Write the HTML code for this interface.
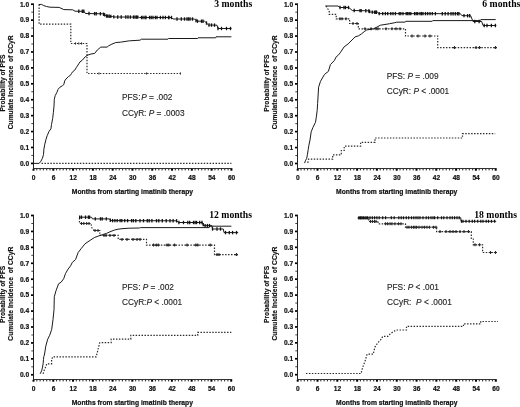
<!DOCTYPE html>
<html><head><meta charset="utf-8"><style>
html,body{margin:0;padding:0;background:#fff;}
svg{display:block;will-change:transform;filter:blur(0.3px);}
.tk{font-family:"Liberation Sans", sans-serif;font-weight:bold;font-size:6.6px;fill:#111;stroke:#111;stroke-width:0.2px;}
.xt{font-family:"Liberation Sans", sans-serif;font-weight:bold;font-size:6.75px;fill:#111;stroke:#111;stroke-width:0.2px;}
.yt{font-family:"Liberation Sans", sans-serif;font-weight:bold;font-size:6.65px;fill:#111;stroke:#111;stroke-width:0.15px;}
.pt{font-family:"Liberation Serif", serif;font-weight:bold;font-size:9.7px;fill:#000;}
.st{font-family:"Liberation Sans", sans-serif;font-size:8.3px;fill:#222;stroke:#222;stroke-width:0.12px;}
</style></head><body>
<svg width="520" height="407" viewBox="0 0 520 407">
<rect width="520" height="407" fill="#fff"/>
<path d="M33.50,3.30 V169.00" stroke="#222" stroke-width="1.0" fill="none"/>
<path d="M33.00,168.50 H232.40" stroke="#333" stroke-width="1.0" fill="none"/>
<rect x="31.00" y="162.55" width="2.1" height="1.7" fill="#000"/>
<rect x="31.30" y="154.94" width="1.8" height="1.0" fill="#444"/>
<rect x="31.00" y="146.63" width="2.1" height="1.7" fill="#000"/>
<rect x="31.30" y="139.02" width="1.8" height="1.0" fill="#444"/>
<rect x="31.00" y="130.71" width="2.1" height="1.7" fill="#000"/>
<rect x="31.30" y="123.10" width="1.8" height="1.0" fill="#444"/>
<rect x="31.00" y="114.79" width="2.1" height="1.7" fill="#000"/>
<rect x="31.30" y="107.18" width="1.8" height="1.0" fill="#444"/>
<rect x="31.00" y="98.87" width="2.1" height="1.7" fill="#000"/>
<rect x="31.30" y="91.26" width="1.8" height="1.0" fill="#444"/>
<rect x="31.00" y="82.95" width="2.1" height="1.7" fill="#000"/>
<rect x="31.30" y="75.34" width="1.8" height="1.0" fill="#444"/>
<rect x="31.00" y="67.03" width="2.1" height="1.7" fill="#000"/>
<rect x="31.30" y="59.42" width="1.8" height="1.0" fill="#444"/>
<rect x="31.00" y="51.11" width="2.1" height="1.7" fill="#000"/>
<rect x="31.30" y="43.50" width="1.8" height="1.0" fill="#444"/>
<rect x="31.00" y="35.19" width="2.1" height="1.7" fill="#000"/>
<rect x="31.30" y="27.58" width="1.8" height="1.0" fill="#444"/>
<rect x="31.00" y="19.27" width="2.1" height="1.7" fill="#000"/>
<rect x="31.30" y="11.66" width="1.8" height="1.0" fill="#444"/>
<rect x="31.00" y="3.35" width="2.1" height="1.7" fill="#000"/>
<rect x="32.50" y="168.80" width="2.0" height="1.9" fill="#000"/>
<rect x="36.25" y="168.90" width="1.1" height="1.5" fill="#333"/>
<rect x="39.55" y="168.90" width="1.1" height="1.5" fill="#333"/>
<rect x="42.84" y="168.90" width="1.1" height="1.5" fill="#333"/>
<rect x="46.14" y="168.90" width="1.1" height="1.5" fill="#333"/>
<rect x="49.44" y="168.90" width="1.1" height="1.5" fill="#333"/>
<rect x="52.29" y="168.80" width="2.0" height="1.9" fill="#000"/>
<rect x="56.04" y="168.90" width="1.1" height="1.5" fill="#333"/>
<rect x="59.34" y="168.90" width="1.1" height="1.5" fill="#333"/>
<rect x="62.64" y="168.90" width="1.1" height="1.5" fill="#333"/>
<rect x="65.93" y="168.90" width="1.1" height="1.5" fill="#333"/>
<rect x="69.23" y="168.90" width="1.1" height="1.5" fill="#333"/>
<rect x="72.08" y="168.80" width="2.0" height="1.9" fill="#000"/>
<rect x="75.83" y="168.90" width="1.1" height="1.5" fill="#333"/>
<rect x="79.13" y="168.90" width="1.1" height="1.5" fill="#333"/>
<rect x="82.42" y="168.90" width="1.1" height="1.5" fill="#333"/>
<rect x="85.72" y="168.90" width="1.1" height="1.5" fill="#333"/>
<rect x="89.02" y="168.90" width="1.1" height="1.5" fill="#333"/>
<rect x="91.87" y="168.80" width="2.0" height="1.9" fill="#000"/>
<rect x="95.62" y="168.90" width="1.1" height="1.5" fill="#333"/>
<rect x="98.92" y="168.90" width="1.1" height="1.5" fill="#333"/>
<rect x="102.22" y="168.90" width="1.1" height="1.5" fill="#333"/>
<rect x="105.51" y="168.90" width="1.1" height="1.5" fill="#333"/>
<rect x="108.81" y="168.90" width="1.1" height="1.5" fill="#333"/>
<rect x="111.66" y="168.80" width="2.0" height="1.9" fill="#000"/>
<rect x="115.41" y="168.90" width="1.1" height="1.5" fill="#333"/>
<rect x="118.71" y="168.90" width="1.1" height="1.5" fill="#333"/>
<rect x="122.01" y="168.90" width="1.1" height="1.5" fill="#333"/>
<rect x="125.30" y="168.90" width="1.1" height="1.5" fill="#333"/>
<rect x="128.60" y="168.90" width="1.1" height="1.5" fill="#333"/>
<rect x="131.45" y="168.80" width="2.0" height="1.9" fill="#000"/>
<rect x="135.20" y="168.90" width="1.1" height="1.5" fill="#333"/>
<rect x="138.50" y="168.90" width="1.1" height="1.5" fill="#333"/>
<rect x="141.79" y="168.90" width="1.1" height="1.5" fill="#333"/>
<rect x="145.09" y="168.90" width="1.1" height="1.5" fill="#333"/>
<rect x="148.39" y="168.90" width="1.1" height="1.5" fill="#333"/>
<rect x="151.24" y="168.80" width="2.0" height="1.9" fill="#000"/>
<rect x="154.99" y="168.90" width="1.1" height="1.5" fill="#333"/>
<rect x="158.29" y="168.90" width="1.1" height="1.5" fill="#333"/>
<rect x="161.58" y="168.90" width="1.1" height="1.5" fill="#333"/>
<rect x="164.88" y="168.90" width="1.1" height="1.5" fill="#333"/>
<rect x="168.18" y="168.90" width="1.1" height="1.5" fill="#333"/>
<rect x="171.03" y="168.80" width="2.0" height="1.9" fill="#000"/>
<rect x="174.78" y="168.90" width="1.1" height="1.5" fill="#333"/>
<rect x="178.08" y="168.90" width="1.1" height="1.5" fill="#333"/>
<rect x="181.38" y="168.90" width="1.1" height="1.5" fill="#333"/>
<rect x="184.67" y="168.90" width="1.1" height="1.5" fill="#333"/>
<rect x="187.97" y="168.90" width="1.1" height="1.5" fill="#333"/>
<rect x="190.82" y="168.80" width="2.0" height="1.9" fill="#000"/>
<rect x="194.57" y="168.90" width="1.1" height="1.5" fill="#333"/>
<rect x="197.87" y="168.90" width="1.1" height="1.5" fill="#333"/>
<rect x="201.16" y="168.90" width="1.1" height="1.5" fill="#333"/>
<rect x="204.46" y="168.90" width="1.1" height="1.5" fill="#333"/>
<rect x="207.76" y="168.90" width="1.1" height="1.5" fill="#333"/>
<rect x="210.61" y="168.80" width="2.0" height="1.9" fill="#000"/>
<rect x="214.36" y="168.90" width="1.1" height="1.5" fill="#333"/>
<rect x="217.66" y="168.90" width="1.1" height="1.5" fill="#333"/>
<rect x="220.95" y="168.90" width="1.1" height="1.5" fill="#333"/>
<rect x="224.25" y="168.90" width="1.1" height="1.5" fill="#333"/>
<rect x="227.55" y="168.90" width="1.1" height="1.5" fill="#333"/>
<rect x="230.40" y="168.80" width="2.0" height="1.9" fill="#000"/>
<text x="29.10" y="165.70" text-anchor="end" class="tk">0.0</text>
<text x="29.10" y="149.78" text-anchor="end" class="tk">0.1</text>
<text x="29.10" y="133.86" text-anchor="end" class="tk">0.2</text>
<text x="29.10" y="117.94" text-anchor="end" class="tk">0.3</text>
<text x="29.10" y="102.02" text-anchor="end" class="tk">0.4</text>
<text x="29.10" y="86.10" text-anchor="end" class="tk">0.5</text>
<text x="29.10" y="70.18" text-anchor="end" class="tk">0.6</text>
<text x="29.10" y="54.26" text-anchor="end" class="tk">0.7</text>
<text x="29.10" y="38.34" text-anchor="end" class="tk">0.8</text>
<text x="29.10" y="22.42" text-anchor="end" class="tk">0.9</text>
<text x="29.10" y="6.50" text-anchor="end" class="tk">1.0</text>
<text x="33.70" y="179.70" text-anchor="middle" class="tk">0</text>
<text x="53.49" y="179.70" text-anchor="middle" class="tk">6</text>
<text x="73.28" y="179.70" text-anchor="middle" class="tk">12</text>
<text x="93.07" y="179.70" text-anchor="middle" class="tk">18</text>
<text x="112.86" y="179.70" text-anchor="middle" class="tk">24</text>
<text x="132.65" y="179.70" text-anchor="middle" class="tk">30</text>
<text x="152.44" y="179.70" text-anchor="middle" class="tk">36</text>
<text x="172.23" y="179.70" text-anchor="middle" class="tk">42</text>
<text x="192.02" y="179.70" text-anchor="middle" class="tk">48</text>
<text x="211.81" y="179.70" text-anchor="middle" class="tk">54</text>
<text x="231.60" y="179.70" text-anchor="middle" class="tk">60</text>
<text x="132.45" y="194.40" text-anchor="middle" class="xt" textLength="121.3" lengthAdjust="spacingAndGlyphs">Months from starting imatinib therapy</text>
<text transform="translate(4.80,83.05) rotate(-90)" text-anchor="middle" class="yt" textLength="57.1" lengthAdjust="spacingAndGlyphs">Probability of PFS</text>
<text transform="translate(12.80,82.35) rotate(-90)" text-anchor="middle" class="yt" xml:space="preserve" textLength="93.9" lengthAdjust="spacing">Cumulate Incidence  of CCyR</text>
<text x="252.20" y="7.00" text-anchor="end" class="pt">3 months</text>
<path d="M39.10,4.50 L39.10,24.10 L70.80,24.10 L70.80,43.50 L87.00,43.50 L87.00,73.50 L180.40,73.50" stroke="#2a2a2a" stroke-width="1.2" fill="none" stroke-dasharray="1.45 1.5"/>
<path d="M75.50,42.40 v2.20" stroke="#2a2a2a" stroke-width="1.0"/>
<path d="M78.80,42.40 v2.20" stroke="#2a2a2a" stroke-width="1.0"/>
<path d="M81.60,42.40 v2.20" stroke="#2a2a2a" stroke-width="1.0"/>
<path d="M99.00,72.40 v2.20" stroke="#2a2a2a" stroke-width="1.0"/>
<path d="M146.60,72.40 v2.20" stroke="#2a2a2a" stroke-width="1.0"/>
<path d="M180.40,72.40 v2.20" stroke="#2a2a2a" stroke-width="1.0"/>
<path d="M41.50,163.40 L231.40,163.40" stroke="#2a2a2a" stroke-width="1.2" fill="none" stroke-dasharray="1.45 1.5"/>
<path d="M33.00,163.40 L39.10,163.40 L40.90,161.20 L42.40,158.30 L43.50,154.60 L43.90,149.10 L44.80,144.20 L46.00,139.30 L47.20,135.60 L49.10,131.30 L50.90,128.90 L51.50,124.60 L52.70,118.40 L53.40,112.30 L54.00,106.10 L54.30,99.30 L55.20,95.60 L56.80,92.60 L58.00,89.50 L59.80,87.30 L62.30,85.80 L63.80,84.60 L64.70,80.90 L66.00,79.00 L68.40,76.60 L70.30,75.40 L71.50,73.50 L72.70,71.70 L74.60,70.40 L76.40,67.40 L78.90,63.70 L80.00,61.80 L82.30,60.20 L85.40,56.60 L88.10,55.00 L91.00,54.00 L94.70,53.40 L97.30,50.00 L100.80,47.10 L107.10,47.10 L108.30,46.00 L111.10,44.50 L115.80,42.50 L120.40,42.20 L126.10,41.30 L129.60,40.80 L140.00,40.20 L141.40,39.20 L168.00,39.20 L168.50,38.50 L197.50,38.50 L198.00,37.80 L215.60,37.80 L216.00,36.80 L231.40,36.80" stroke="#1a1a1a" stroke-width="1.0" fill="none" stroke-linejoin="round"/>
<path d="M38.80,4.50 L41.50,4.40 L43.80,5.60 L46.50,6.50 L50.00,7.20 L59.20,7.40 L63.80,9.60 L72.70,9.80 L75.00,11.20 L84.00,11.30 L85.40,13.50 L102.70,13.80 L105.00,15.00 L106.50,16.00 L112.70,16.50 L114.20,17.00 L138.50,17.10 L139.50,17.50 L171.50,17.50 L173.00,19.00 L194.50,19.00 L196.00,20.50 L197.30,21.20 L204.60,21.20 L208.50,25.00 L217.00,25.20 L218.00,28.50 L231.50,28.50" stroke="#1a1a1a" stroke-width="1.0" fill="none" stroke-linejoin="round"/>
<path d="M78.80,9.54 v3.40" stroke="#111" stroke-width="1.3"/>
<path d="M82.30,9.58 v3.40" stroke="#111" stroke-width="1.3"/>
<path d="M83.80,9.60 v3.40" stroke="#111" stroke-width="1.3"/>
<path d="M89.00,11.86 v3.40" stroke="#111" stroke-width="1.3"/>
<path d="M94.60,11.96 v3.40" stroke="#111" stroke-width="1.3"/>
<path d="M96.20,11.99 v3.40" stroke="#111" stroke-width="1.3"/>
<path d="M100.40,12.06 v3.40" stroke="#111" stroke-width="1.3"/>
<path d="M103.50,12.52 v3.40" stroke="#111" stroke-width="1.3"/>
<path d="M104.60,13.09 v3.40" stroke="#111" stroke-width="1.3"/>
<path d="M106.50,14.30 v3.40" stroke="#111" stroke-width="1.3"/>
<path d="M107.70,14.40 v3.40" stroke="#111" stroke-width="1.3"/>
<path d="M109.20,14.52 v3.40" stroke="#111" stroke-width="1.3"/>
<path d="M110.80,14.65 v3.40" stroke="#111" stroke-width="1.3"/>
<path d="M113.80,15.17 v3.40" stroke="#111" stroke-width="1.3"/>
<path d="M117.70,15.31 v3.40" stroke="#111" stroke-width="1.3"/>
<path d="M121.20,15.33 v3.40" stroke="#111" stroke-width="1.3"/>
<path d="M125.80,15.35 v3.40" stroke="#111" stroke-width="1.3"/>
<path d="M128.00,15.36 v3.40" stroke="#111" stroke-width="1.3"/>
<path d="M130.40,15.37 v3.40" stroke="#111" stroke-width="1.3"/>
<path d="M133.50,15.38 v3.40" stroke="#111" stroke-width="1.3"/>
<path d="M135.00,15.39 v3.40" stroke="#111" stroke-width="1.3"/>
<path d="M136.50,15.39 v3.40" stroke="#111" stroke-width="1.3"/>
<path d="M137.70,15.40 v3.40" stroke="#111" stroke-width="1.3"/>
<path d="M141.50,15.80 v3.40" stroke="#111" stroke-width="1.3"/>
<path d="M143.00,15.80 v3.40" stroke="#111" stroke-width="1.3"/>
<path d="M145.00,15.80 v3.40" stroke="#111" stroke-width="1.3"/>
<path d="M146.00,15.80 v3.40" stroke="#111" stroke-width="1.3"/>
<path d="M149.60,15.80 v3.40" stroke="#111" stroke-width="1.3"/>
<path d="M151.20,15.80 v3.40" stroke="#111" stroke-width="1.3"/>
<path d="M153.00,15.80 v3.40" stroke="#111" stroke-width="1.3"/>
<path d="M155.40,15.80 v3.40" stroke="#111" stroke-width="1.3"/>
<path d="M157.00,15.80 v3.40" stroke="#111" stroke-width="1.3"/>
<path d="M160.40,15.80 v3.40" stroke="#111" stroke-width="1.3"/>
<path d="M163.00,15.80 v3.40" stroke="#111" stroke-width="1.3"/>
<path d="M165.40,15.80 v3.40" stroke="#111" stroke-width="1.3"/>
<path d="M168.50,15.80 v3.40" stroke="#111" stroke-width="1.3"/>
<path d="M169.00,15.80 v3.40" stroke="#111" stroke-width="1.3"/>
<path d="M171.50,15.80 v3.40" stroke="#111" stroke-width="1.3"/>
<path d="M177.00,17.30 v3.40" stroke="#111" stroke-width="1.3"/>
<path d="M181.30,17.30 v3.40" stroke="#111" stroke-width="1.3"/>
<path d="M184.50,17.30 v3.40" stroke="#111" stroke-width="1.3"/>
<path d="M187.00,17.30 v3.40" stroke="#111" stroke-width="1.3"/>
<path d="M188.50,17.30 v3.40" stroke="#111" stroke-width="1.3"/>
<path d="M190.00,17.30 v3.40" stroke="#111" stroke-width="1.3"/>
<path d="M192.50,17.30 v3.40" stroke="#111" stroke-width="1.3"/>
<path d="M196.00,18.80 v3.40" stroke="#111" stroke-width="1.3"/>
<path d="M197.50,19.50 v3.40" stroke="#111" stroke-width="1.3"/>
<path d="M201.50,19.50 v3.40" stroke="#111" stroke-width="1.3"/>
<path d="M203.00,19.50 v3.40" stroke="#111" stroke-width="1.3"/>
<path d="M206.50,21.35 v3.40" stroke="#111" stroke-width="1.3"/>
<path d="M209.00,23.31 v3.40" stroke="#111" stroke-width="1.3"/>
<path d="M211.50,23.37 v3.40" stroke="#111" stroke-width="1.3"/>
<path d="M214.50,23.44 v3.40" stroke="#111" stroke-width="1.3"/>
<path d="M218.00,26.80 v3.40" stroke="#111" stroke-width="1.3"/>
<path d="M221.50,26.80 v3.40" stroke="#111" stroke-width="1.3"/>
<path d="M226.50,26.80 v3.40" stroke="#111" stroke-width="1.3"/>
<path d="M230.50,26.80 v3.40" stroke="#111" stroke-width="1.3"/>
<text x="122.00" y="99.80" class="st" xml:space="preserve">PFS:<tspan dx="0.8" font-style="italic">P</tspan> = .002</text>
<text x="122.00" y="115.60" class="st" xml:space="preserve">CCyR: <tspan font-style="italic">P</tspan> = .0003</text>
<path d="M297.50,3.30 V169.00" stroke="#222" stroke-width="1.0" fill="none"/>
<path d="M297.00,168.50 H496.70" stroke="#333" stroke-width="1.0" fill="none"/>
<rect x="295.00" y="162.65" width="2.1" height="1.7" fill="#000"/>
<rect x="295.30" y="155.03" width="1.8" height="1.0" fill="#444"/>
<rect x="295.00" y="146.72" width="2.1" height="1.7" fill="#000"/>
<rect x="295.30" y="139.10" width="1.8" height="1.0" fill="#444"/>
<rect x="295.00" y="130.79" width="2.1" height="1.7" fill="#000"/>
<rect x="295.30" y="123.17" width="1.8" height="1.0" fill="#444"/>
<rect x="295.00" y="114.86" width="2.1" height="1.7" fill="#000"/>
<rect x="295.30" y="107.24" width="1.8" height="1.0" fill="#444"/>
<rect x="295.00" y="98.93" width="2.1" height="1.7" fill="#000"/>
<rect x="295.30" y="91.31" width="1.8" height="1.0" fill="#444"/>
<rect x="295.00" y="83.00" width="2.1" height="1.7" fill="#000"/>
<rect x="295.30" y="75.38" width="1.8" height="1.0" fill="#444"/>
<rect x="295.00" y="67.07" width="2.1" height="1.7" fill="#000"/>
<rect x="295.30" y="59.45" width="1.8" height="1.0" fill="#444"/>
<rect x="295.00" y="51.14" width="2.1" height="1.7" fill="#000"/>
<rect x="295.30" y="43.52" width="1.8" height="1.0" fill="#444"/>
<rect x="295.00" y="35.21" width="2.1" height="1.7" fill="#000"/>
<rect x="295.30" y="27.59" width="1.8" height="1.0" fill="#444"/>
<rect x="295.00" y="19.28" width="2.1" height="1.7" fill="#000"/>
<rect x="295.30" y="11.66" width="1.8" height="1.0" fill="#444"/>
<rect x="295.00" y="3.35" width="2.1" height="1.7" fill="#000"/>
<rect x="296.70" y="168.80" width="2.0" height="1.9" fill="#000"/>
<rect x="300.45" y="168.90" width="1.1" height="1.5" fill="#333"/>
<rect x="303.75" y="168.90" width="1.1" height="1.5" fill="#333"/>
<rect x="307.05" y="168.90" width="1.1" height="1.5" fill="#333"/>
<rect x="310.35" y="168.90" width="1.1" height="1.5" fill="#333"/>
<rect x="313.65" y="168.90" width="1.1" height="1.5" fill="#333"/>
<rect x="316.50" y="168.80" width="2.0" height="1.9" fill="#000"/>
<rect x="320.25" y="168.90" width="1.1" height="1.5" fill="#333"/>
<rect x="323.55" y="168.90" width="1.1" height="1.5" fill="#333"/>
<rect x="326.85" y="168.90" width="1.1" height="1.5" fill="#333"/>
<rect x="330.15" y="168.90" width="1.1" height="1.5" fill="#333"/>
<rect x="333.45" y="168.90" width="1.1" height="1.5" fill="#333"/>
<rect x="336.30" y="168.80" width="2.0" height="1.9" fill="#000"/>
<rect x="340.05" y="168.90" width="1.1" height="1.5" fill="#333"/>
<rect x="343.35" y="168.90" width="1.1" height="1.5" fill="#333"/>
<rect x="346.65" y="168.90" width="1.1" height="1.5" fill="#333"/>
<rect x="349.95" y="168.90" width="1.1" height="1.5" fill="#333"/>
<rect x="353.25" y="168.90" width="1.1" height="1.5" fill="#333"/>
<rect x="356.10" y="168.80" width="2.0" height="1.9" fill="#000"/>
<rect x="359.85" y="168.90" width="1.1" height="1.5" fill="#333"/>
<rect x="363.15" y="168.90" width="1.1" height="1.5" fill="#333"/>
<rect x="366.45" y="168.90" width="1.1" height="1.5" fill="#333"/>
<rect x="369.75" y="168.90" width="1.1" height="1.5" fill="#333"/>
<rect x="373.05" y="168.90" width="1.1" height="1.5" fill="#333"/>
<rect x="375.90" y="168.80" width="2.0" height="1.9" fill="#000"/>
<rect x="379.65" y="168.90" width="1.1" height="1.5" fill="#333"/>
<rect x="382.95" y="168.90" width="1.1" height="1.5" fill="#333"/>
<rect x="386.25" y="168.90" width="1.1" height="1.5" fill="#333"/>
<rect x="389.55" y="168.90" width="1.1" height="1.5" fill="#333"/>
<rect x="392.85" y="168.90" width="1.1" height="1.5" fill="#333"/>
<rect x="395.70" y="168.80" width="2.0" height="1.9" fill="#000"/>
<rect x="399.45" y="168.90" width="1.1" height="1.5" fill="#333"/>
<rect x="402.75" y="168.90" width="1.1" height="1.5" fill="#333"/>
<rect x="406.05" y="168.90" width="1.1" height="1.5" fill="#333"/>
<rect x="409.35" y="168.90" width="1.1" height="1.5" fill="#333"/>
<rect x="412.65" y="168.90" width="1.1" height="1.5" fill="#333"/>
<rect x="415.50" y="168.80" width="2.0" height="1.9" fill="#000"/>
<rect x="419.25" y="168.90" width="1.1" height="1.5" fill="#333"/>
<rect x="422.55" y="168.90" width="1.1" height="1.5" fill="#333"/>
<rect x="425.85" y="168.90" width="1.1" height="1.5" fill="#333"/>
<rect x="429.15" y="168.90" width="1.1" height="1.5" fill="#333"/>
<rect x="432.45" y="168.90" width="1.1" height="1.5" fill="#333"/>
<rect x="435.30" y="168.80" width="2.0" height="1.9" fill="#000"/>
<rect x="439.05" y="168.90" width="1.1" height="1.5" fill="#333"/>
<rect x="442.35" y="168.90" width="1.1" height="1.5" fill="#333"/>
<rect x="445.65" y="168.90" width="1.1" height="1.5" fill="#333"/>
<rect x="448.95" y="168.90" width="1.1" height="1.5" fill="#333"/>
<rect x="452.25" y="168.90" width="1.1" height="1.5" fill="#333"/>
<rect x="455.10" y="168.80" width="2.0" height="1.9" fill="#000"/>
<rect x="458.85" y="168.90" width="1.1" height="1.5" fill="#333"/>
<rect x="462.15" y="168.90" width="1.1" height="1.5" fill="#333"/>
<rect x="465.45" y="168.90" width="1.1" height="1.5" fill="#333"/>
<rect x="468.75" y="168.90" width="1.1" height="1.5" fill="#333"/>
<rect x="472.05" y="168.90" width="1.1" height="1.5" fill="#333"/>
<rect x="474.90" y="168.80" width="2.0" height="1.9" fill="#000"/>
<rect x="478.65" y="168.90" width="1.1" height="1.5" fill="#333"/>
<rect x="481.95" y="168.90" width="1.1" height="1.5" fill="#333"/>
<rect x="485.25" y="168.90" width="1.1" height="1.5" fill="#333"/>
<rect x="488.55" y="168.90" width="1.1" height="1.5" fill="#333"/>
<rect x="491.85" y="168.90" width="1.1" height="1.5" fill="#333"/>
<rect x="494.70" y="168.80" width="2.0" height="1.9" fill="#000"/>
<text x="293.10" y="165.80" text-anchor="end" class="tk">0.0</text>
<text x="293.10" y="149.87" text-anchor="end" class="tk">0.1</text>
<text x="293.10" y="133.94" text-anchor="end" class="tk">0.2</text>
<text x="293.10" y="118.01" text-anchor="end" class="tk">0.3</text>
<text x="293.10" y="102.08" text-anchor="end" class="tk">0.4</text>
<text x="293.10" y="86.15" text-anchor="end" class="tk">0.5</text>
<text x="293.10" y="70.22" text-anchor="end" class="tk">0.6</text>
<text x="293.10" y="54.29" text-anchor="end" class="tk">0.7</text>
<text x="293.10" y="38.36" text-anchor="end" class="tk">0.8</text>
<text x="293.10" y="22.43" text-anchor="end" class="tk">0.9</text>
<text x="293.10" y="6.50" text-anchor="end" class="tk">1.0</text>
<text x="297.90" y="179.70" text-anchor="middle" class="tk">0</text>
<text x="317.70" y="179.70" text-anchor="middle" class="tk">6</text>
<text x="337.50" y="179.70" text-anchor="middle" class="tk">12</text>
<text x="357.30" y="179.70" text-anchor="middle" class="tk">18</text>
<text x="377.10" y="179.70" text-anchor="middle" class="tk">24</text>
<text x="396.90" y="179.70" text-anchor="middle" class="tk">30</text>
<text x="416.70" y="179.70" text-anchor="middle" class="tk">36</text>
<text x="436.50" y="179.70" text-anchor="middle" class="tk">42</text>
<text x="456.30" y="179.70" text-anchor="middle" class="tk">48</text>
<text x="476.10" y="179.70" text-anchor="middle" class="tk">54</text>
<text x="495.90" y="179.70" text-anchor="middle" class="tk">60</text>
<text x="396.70" y="194.40" text-anchor="middle" class="xt" textLength="121.3" lengthAdjust="spacingAndGlyphs">Months from starting imatinib therapy</text>
<text transform="translate(268.80,83.10) rotate(-90)" text-anchor="middle" class="yt" textLength="57.1" lengthAdjust="spacingAndGlyphs">Probability of PFS</text>
<text transform="translate(276.80,82.40) rotate(-90)" text-anchor="middle" class="yt" xml:space="preserve" textLength="93.9" lengthAdjust="spacing">Cumulate Incidence  of CCyR</text>
<text x="520.30" y="7.00" text-anchor="end" class="pt">6 months</text>
<path d="M326.00,6.00 L329.20,11.00 L329.20,14.30 L336.20,14.30 L336.20,18.80 L349.60,18.80 L349.60,23.50 L358.30,23.50 L358.30,28.80 L405.50,28.80 L405.50,36.00 L437.70,36.00 L437.70,47.60 L496.40,47.60" stroke="#2a2a2a" stroke-width="1.2" fill="none" stroke-dasharray="1.45 1.5"/>
<path d="M340.00,17.30 v3.00 M338.50,18.80 h3" stroke="#2a2a2a" stroke-width="1.1"/>
<path d="M342.00,17.30 v3.00 M340.50,18.80 h3" stroke="#2a2a2a" stroke-width="1.1"/>
<path d="M346.00,17.30 v3.00 M344.50,18.80 h3" stroke="#2a2a2a" stroke-width="1.1"/>
<path d="M353.00,22.00 v3.00 M351.50,23.50 h3" stroke="#2a2a2a" stroke-width="1.1"/>
<path d="M357.00,22.00 v3.00 M355.50,23.50 h3" stroke="#2a2a2a" stroke-width="1.1"/>
<path d="M365.00,27.30 v3.00 M363.50,28.80 h3" stroke="#2a2a2a" stroke-width="1.1"/>
<path d="M371.00,27.30 v3.00 M369.50,28.80 h3" stroke="#2a2a2a" stroke-width="1.1"/>
<path d="M376.00,27.30 v3.00 M374.50,28.80 h3" stroke="#2a2a2a" stroke-width="1.1"/>
<path d="M378.00,27.30 v3.00 M376.50,28.80 h3" stroke="#2a2a2a" stroke-width="1.1"/>
<path d="M386.00,27.30 v3.00 M384.50,28.80 h3" stroke="#2a2a2a" stroke-width="1.1"/>
<path d="M392.00,27.30 v3.00 M390.50,28.80 h3" stroke="#2a2a2a" stroke-width="1.1"/>
<path d="M396.00,27.30 v3.00 M394.50,28.80 h3" stroke="#2a2a2a" stroke-width="1.1"/>
<path d="M400.00,27.30 v3.00 M398.50,28.80 h3" stroke="#2a2a2a" stroke-width="1.1"/>
<path d="M412.00,34.50 v3.00 M410.50,36.00 h3" stroke="#2a2a2a" stroke-width="1.1"/>
<path d="M418.00,34.50 v3.00 M416.50,36.00 h3" stroke="#2a2a2a" stroke-width="1.1"/>
<path d="M425.00,34.50 v3.00 M423.50,36.00 h3" stroke="#2a2a2a" stroke-width="1.1"/>
<path d="M430.00,34.50 v3.00 M428.50,36.00 h3" stroke="#2a2a2a" stroke-width="1.1"/>
<path d="M454.50,46.10 v3.00 M453.00,47.60 h3" stroke="#2a2a2a" stroke-width="1.1"/>
<path d="M476.00,46.10 v3.00 M474.50,47.60 h3" stroke="#2a2a2a" stroke-width="1.1"/>
<path d="M479.50,46.10 v3.00 M478.00,47.60 h3" stroke="#2a2a2a" stroke-width="1.1"/>
<path d="M495.50,46.10 v3.00 M494.00,47.60 h3" stroke="#2a2a2a" stroke-width="1.1"/>
<path d="M307.80,162.80 L308.60,159.20 L332.70,159.20 L332.70,154.80 L341.30,154.80 L341.30,150.50 L344.20,150.50 L344.20,146.20 L360.60,146.20 L360.60,142.30 L375.00,142.30 L375.00,138.00 L462.50,138.00 L462.50,133.70 L495.20,133.70" stroke="#2a2a2a" stroke-width="1.2" fill="none" stroke-dasharray="1.45 1.5"/>
<path d="M304.60,163.10 L305.40,160.80 L306.70,158.40 L307.40,154.70 L308.20,149.60 L308.90,145.20 L310.00,140.00 L311.20,131.80 L312.90,127.50 L315.50,122.30 L316.30,117.20 L317.20,110.30 L317.60,103.70 L318.60,87.20 L320.50,81.30 L324.50,74.40 L328.40,71.40 L330.40,64.60 L334.30,60.60 L336.30,56.70 L338.20,55.30 L340.20,52.80 L344.10,46.90 L348.10,43.90 L352.00,40.00 L355.00,36.90 L358.50,35.80 L361.30,34.00 L364.20,31.70 L366.50,30.00 L370.00,29.40 L373.50,28.80 L376.90,27.10 L380.40,25.20 L385.00,24.50 L389.60,23.70 L394.20,22.80 L396.50,22.20 L405.30,22.10 L405.80,21.30 L432.20,21.30 L432.70,20.60 L480.30,20.60 L480.80,19.60 L495.70,19.60" stroke="#1a1a1a" stroke-width="1.0" fill="none" stroke-linejoin="round"/>
<path d="M325.40,6.00 L338.00,6.00 L340.00,7.50 L348.80,7.50 L352.30,10.50 L368.50,10.80 L370.40,12.00 L377.50,12.30 L379.00,13.60 L460.40,13.70 L461.80,15.60 L470.70,15.80 L473.00,21.50 L481.70,21.50 L483.00,25.50 L496.30,25.50" stroke="#1a1a1a" stroke-width="1.0" fill="none" stroke-linejoin="round"/>
<path d="M340.00,5.80 v3.40" stroke="#111" stroke-width="1.3"/>
<path d="M344.00,5.80 v3.40" stroke="#111" stroke-width="1.3"/>
<path d="M345.50,5.80 v3.40" stroke="#111" stroke-width="1.3"/>
<path d="M348.50,5.80 v3.40" stroke="#111" stroke-width="1.3"/>
<path d="M354.20,8.84 v3.40" stroke="#111" stroke-width="1.3"/>
<path d="M360.00,8.94 v3.40" stroke="#111" stroke-width="1.3"/>
<path d="M361.20,8.96 v3.40" stroke="#111" stroke-width="1.3"/>
<path d="M365.80,9.05 v3.40" stroke="#111" stroke-width="1.3"/>
<path d="M368.80,9.29 v3.40" stroke="#111" stroke-width="1.3"/>
<path d="M369.60,9.79 v3.40" stroke="#111" stroke-width="1.3"/>
<path d="M372.30,10.38 v3.40" stroke="#111" stroke-width="1.3"/>
<path d="M374.60,10.48 v3.40" stroke="#111" stroke-width="1.3"/>
<path d="M375.80,10.53 v3.40" stroke="#111" stroke-width="1.3"/>
<path d="M376.50,10.56 v3.40" stroke="#111" stroke-width="1.3"/>
<path d="M379.20,11.90 v3.40" stroke="#111" stroke-width="1.3"/>
<path d="M382.70,11.90 v3.40" stroke="#111" stroke-width="1.3"/>
<path d="M385.40,11.91 v3.40" stroke="#111" stroke-width="1.3"/>
<path d="M387.70,11.91 v3.40" stroke="#111" stroke-width="1.3"/>
<path d="M390.80,11.91 v3.40" stroke="#111" stroke-width="1.3"/>
<path d="M393.00,11.92 v3.40" stroke="#111" stroke-width="1.3"/>
<path d="M395.40,11.92 v3.40" stroke="#111" stroke-width="1.3"/>
<path d="M399.20,11.92 v3.40" stroke="#111" stroke-width="1.3"/>
<path d="M400.80,11.93 v3.40" stroke="#111" stroke-width="1.3"/>
<path d="M403.00,11.93 v3.40" stroke="#111" stroke-width="1.3"/>
<path d="M406.20,11.93 v3.40" stroke="#111" stroke-width="1.3"/>
<path d="M407.70,11.94 v3.40" stroke="#111" stroke-width="1.3"/>
<path d="M409.20,11.94 v3.40" stroke="#111" stroke-width="1.3"/>
<path d="M410.80,11.94 v3.40" stroke="#111" stroke-width="1.3"/>
<path d="M414.60,11.94 v3.40" stroke="#111" stroke-width="1.3"/>
<path d="M416.20,11.95 v3.40" stroke="#111" stroke-width="1.3"/>
<path d="M417.70,11.95 v3.40" stroke="#111" stroke-width="1.3"/>
<path d="M420.00,11.95 v3.40" stroke="#111" stroke-width="1.3"/>
<path d="M421.50,11.95 v3.40" stroke="#111" stroke-width="1.3"/>
<path d="M423.00,11.95 v3.40" stroke="#111" stroke-width="1.3"/>
<path d="M425.50,11.96 v3.40" stroke="#111" stroke-width="1.3"/>
<path d="M427.70,11.96 v3.40" stroke="#111" stroke-width="1.3"/>
<path d="M430.00,11.96 v3.40" stroke="#111" stroke-width="1.3"/>
<path d="M432.30,11.97 v3.40" stroke="#111" stroke-width="1.3"/>
<path d="M435.40,11.97 v3.40" stroke="#111" stroke-width="1.3"/>
<path d="M442.30,11.98 v3.40" stroke="#111" stroke-width="1.3"/>
<path d="M445.20,11.98 v3.40" stroke="#111" stroke-width="1.3"/>
<path d="M448.10,11.98 v3.40" stroke="#111" stroke-width="1.3"/>
<path d="M451.00,11.99 v3.40" stroke="#111" stroke-width="1.3"/>
<path d="M453.10,11.99 v3.40" stroke="#111" stroke-width="1.3"/>
<path d="M455.30,11.99 v3.40" stroke="#111" stroke-width="1.3"/>
<path d="M457.50,12.00 v3.40" stroke="#111" stroke-width="1.3"/>
<path d="M458.90,12.00 v3.40" stroke="#111" stroke-width="1.3"/>
<path d="M464.00,13.95 v3.40" stroke="#111" stroke-width="1.3"/>
<path d="M467.60,14.03 v3.40" stroke="#111" stroke-width="1.3"/>
<path d="M469.70,14.08 v3.40" stroke="#111" stroke-width="1.3"/>
<path d="M474.80,19.80 v3.40" stroke="#111" stroke-width="1.3"/>
<path d="M479.10,19.80 v3.40" stroke="#111" stroke-width="1.3"/>
<path d="M484.20,23.80 v3.40" stroke="#111" stroke-width="1.3"/>
<path d="M487.00,23.80 v3.40" stroke="#111" stroke-width="1.3"/>
<path d="M491.40,23.80 v3.40" stroke="#111" stroke-width="1.3"/>
<path d="M495.40,23.80 v3.40" stroke="#111" stroke-width="1.3"/>
<text x="386.70" y="78.70" class="st" xml:space="preserve">PFS: <tspan font-style="italic">P</tspan> = .009</text>
<text x="386.70" y="94.30" class="st" xml:space="preserve">CCyR: <tspan font-style="italic">P</tspan> &lt; .0001</text>
<path d="M33.50,214.60 V380.00" stroke="#222" stroke-width="1.0" fill="none"/>
<path d="M33.00,379.50 H232.20" stroke="#333" stroke-width="1.0" fill="none"/>
<rect x="31.00" y="373.95" width="2.1" height="1.7" fill="#000"/>
<rect x="31.30" y="366.34" width="1.8" height="1.0" fill="#444"/>
<rect x="31.00" y="358.02" width="2.1" height="1.7" fill="#000"/>
<rect x="31.30" y="350.41" width="1.8" height="1.0" fill="#444"/>
<rect x="31.00" y="342.09" width="2.1" height="1.7" fill="#000"/>
<rect x="31.30" y="334.48" width="1.8" height="1.0" fill="#444"/>
<rect x="31.00" y="326.16" width="2.1" height="1.7" fill="#000"/>
<rect x="31.30" y="318.55" width="1.8" height="1.0" fill="#444"/>
<rect x="31.00" y="310.23" width="2.1" height="1.7" fill="#000"/>
<rect x="31.30" y="302.62" width="1.8" height="1.0" fill="#444"/>
<rect x="31.00" y="294.30" width="2.1" height="1.7" fill="#000"/>
<rect x="31.30" y="286.69" width="1.8" height="1.0" fill="#444"/>
<rect x="31.00" y="278.37" width="2.1" height="1.7" fill="#000"/>
<rect x="31.30" y="270.75" width="1.8" height="1.0" fill="#444"/>
<rect x="31.00" y="262.44" width="2.1" height="1.7" fill="#000"/>
<rect x="31.30" y="254.82" width="1.8" height="1.0" fill="#444"/>
<rect x="31.00" y="246.51" width="2.1" height="1.7" fill="#000"/>
<rect x="31.30" y="238.89" width="1.8" height="1.0" fill="#444"/>
<rect x="31.00" y="230.58" width="2.1" height="1.7" fill="#000"/>
<rect x="31.30" y="222.97" width="1.8" height="1.0" fill="#444"/>
<rect x="31.00" y="214.65" width="2.1" height="1.7" fill="#000"/>
<rect x="32.50" y="379.80" width="2.0" height="1.9" fill="#000"/>
<rect x="36.25" y="379.90" width="1.1" height="1.5" fill="#333"/>
<rect x="39.54" y="379.90" width="1.1" height="1.5" fill="#333"/>
<rect x="42.84" y="379.90" width="1.1" height="1.5" fill="#333"/>
<rect x="46.13" y="379.90" width="1.1" height="1.5" fill="#333"/>
<rect x="49.43" y="379.90" width="1.1" height="1.5" fill="#333"/>
<rect x="52.27" y="379.80" width="2.0" height="1.9" fill="#000"/>
<rect x="56.02" y="379.90" width="1.1" height="1.5" fill="#333"/>
<rect x="59.31" y="379.90" width="1.1" height="1.5" fill="#333"/>
<rect x="62.61" y="379.90" width="1.1" height="1.5" fill="#333"/>
<rect x="65.90" y="379.90" width="1.1" height="1.5" fill="#333"/>
<rect x="69.20" y="379.90" width="1.1" height="1.5" fill="#333"/>
<rect x="72.04" y="379.80" width="2.0" height="1.9" fill="#000"/>
<rect x="75.79" y="379.90" width="1.1" height="1.5" fill="#333"/>
<rect x="79.08" y="379.90" width="1.1" height="1.5" fill="#333"/>
<rect x="82.38" y="379.90" width="1.1" height="1.5" fill="#333"/>
<rect x="85.67" y="379.90" width="1.1" height="1.5" fill="#333"/>
<rect x="88.97" y="379.90" width="1.1" height="1.5" fill="#333"/>
<rect x="91.81" y="379.80" width="2.0" height="1.9" fill="#000"/>
<rect x="95.55" y="379.90" width="1.1" height="1.5" fill="#333"/>
<rect x="98.85" y="379.90" width="1.1" height="1.5" fill="#333"/>
<rect x="102.14" y="379.90" width="1.1" height="1.5" fill="#333"/>
<rect x="105.44" y="379.90" width="1.1" height="1.5" fill="#333"/>
<rect x="108.73" y="379.90" width="1.1" height="1.5" fill="#333"/>
<rect x="111.58" y="379.80" width="2.0" height="1.9" fill="#000"/>
<rect x="115.33" y="379.90" width="1.1" height="1.5" fill="#333"/>
<rect x="118.62" y="379.90" width="1.1" height="1.5" fill="#333"/>
<rect x="121.92" y="379.90" width="1.1" height="1.5" fill="#333"/>
<rect x="125.21" y="379.90" width="1.1" height="1.5" fill="#333"/>
<rect x="128.50" y="379.90" width="1.1" height="1.5" fill="#333"/>
<rect x="131.35" y="379.80" width="2.0" height="1.9" fill="#000"/>
<rect x="135.09" y="379.90" width="1.1" height="1.5" fill="#333"/>
<rect x="138.39" y="379.90" width="1.1" height="1.5" fill="#333"/>
<rect x="141.69" y="379.90" width="1.1" height="1.5" fill="#333"/>
<rect x="144.98" y="379.90" width="1.1" height="1.5" fill="#333"/>
<rect x="148.27" y="379.90" width="1.1" height="1.5" fill="#333"/>
<rect x="151.12" y="379.80" width="2.0" height="1.9" fill="#000"/>
<rect x="154.86" y="379.90" width="1.1" height="1.5" fill="#333"/>
<rect x="158.16" y="379.90" width="1.1" height="1.5" fill="#333"/>
<rect x="161.45" y="379.90" width="1.1" height="1.5" fill="#333"/>
<rect x="164.75" y="379.90" width="1.1" height="1.5" fill="#333"/>
<rect x="168.04" y="379.90" width="1.1" height="1.5" fill="#333"/>
<rect x="170.89" y="379.80" width="2.0" height="1.9" fill="#000"/>
<rect x="174.63" y="379.90" width="1.1" height="1.5" fill="#333"/>
<rect x="177.93" y="379.90" width="1.1" height="1.5" fill="#333"/>
<rect x="181.22" y="379.90" width="1.1" height="1.5" fill="#333"/>
<rect x="184.52" y="379.90" width="1.1" height="1.5" fill="#333"/>
<rect x="187.81" y="379.90" width="1.1" height="1.5" fill="#333"/>
<rect x="190.66" y="379.80" width="2.0" height="1.9" fill="#000"/>
<rect x="194.40" y="379.90" width="1.1" height="1.5" fill="#333"/>
<rect x="197.70" y="379.90" width="1.1" height="1.5" fill="#333"/>
<rect x="200.99" y="379.90" width="1.1" height="1.5" fill="#333"/>
<rect x="204.29" y="379.90" width="1.1" height="1.5" fill="#333"/>
<rect x="207.58" y="379.90" width="1.1" height="1.5" fill="#333"/>
<rect x="210.43" y="379.80" width="2.0" height="1.9" fill="#000"/>
<rect x="214.17" y="379.90" width="1.1" height="1.5" fill="#333"/>
<rect x="217.47" y="379.90" width="1.1" height="1.5" fill="#333"/>
<rect x="220.76" y="379.90" width="1.1" height="1.5" fill="#333"/>
<rect x="224.06" y="379.90" width="1.1" height="1.5" fill="#333"/>
<rect x="227.35" y="379.90" width="1.1" height="1.5" fill="#333"/>
<rect x="230.20" y="379.80" width="2.0" height="1.9" fill="#000"/>
<text x="29.10" y="377.10" text-anchor="end" class="tk">0.0</text>
<text x="29.10" y="361.17" text-anchor="end" class="tk">0.1</text>
<text x="29.10" y="345.24" text-anchor="end" class="tk">0.2</text>
<text x="29.10" y="329.31" text-anchor="end" class="tk">0.3</text>
<text x="29.10" y="313.38" text-anchor="end" class="tk">0.4</text>
<text x="29.10" y="297.45" text-anchor="end" class="tk">0.5</text>
<text x="29.10" y="281.52" text-anchor="end" class="tk">0.6</text>
<text x="29.10" y="265.59" text-anchor="end" class="tk">0.7</text>
<text x="29.10" y="249.66" text-anchor="end" class="tk">0.8</text>
<text x="29.10" y="233.73" text-anchor="end" class="tk">0.9</text>
<text x="29.10" y="217.80" text-anchor="end" class="tk">1.0</text>
<text x="33.70" y="390.70" text-anchor="middle" class="tk">0</text>
<text x="53.47" y="390.70" text-anchor="middle" class="tk">6</text>
<text x="73.24" y="390.70" text-anchor="middle" class="tk">12</text>
<text x="93.01" y="390.70" text-anchor="middle" class="tk">18</text>
<text x="112.78" y="390.70" text-anchor="middle" class="tk">24</text>
<text x="132.55" y="390.70" text-anchor="middle" class="tk">30</text>
<text x="152.32" y="390.70" text-anchor="middle" class="tk">36</text>
<text x="172.09" y="390.70" text-anchor="middle" class="tk">42</text>
<text x="191.86" y="390.70" text-anchor="middle" class="tk">48</text>
<text x="211.63" y="390.70" text-anchor="middle" class="tk">54</text>
<text x="231.40" y="390.70" text-anchor="middle" class="tk">60</text>
<text x="132.35" y="405.40" text-anchor="middle" class="xt" textLength="121.3" lengthAdjust="spacingAndGlyphs">Months from starting imatinib therapy</text>
<text transform="translate(4.80,294.40) rotate(-90)" text-anchor="middle" class="yt" textLength="57.1" lengthAdjust="spacingAndGlyphs">Probability of PFS</text>
<text transform="translate(12.80,293.70) rotate(-90)" text-anchor="middle" class="yt" xml:space="preserve" textLength="93.9" lengthAdjust="spacing">Cumulate Incidence  of CCyR</text>
<text x="252.00" y="217.50" text-anchor="end" class="pt">12 months</text>
<path d="M79.50,218.00 L79.50,223.50 L90.90,223.50 L92.00,228.00 L94.00,230.50 L99.80,230.50 L99.80,235.40 L118.20,235.40 L118.20,239.40 L146.50,239.40 L146.50,245.10 L214.50,245.10 L214.50,254.60 L237.60,254.60" stroke="#2a2a2a" stroke-width="1.2" fill="none" stroke-dasharray="1.45 1.5"/>
<path d="M81.50,222.00 v3.00 M80.00,223.50 h3" stroke="#2a2a2a" stroke-width="1.1"/>
<path d="M83.80,222.00 v3.00 M82.30,223.50 h3" stroke="#2a2a2a" stroke-width="1.1"/>
<path d="M86.70,222.00 v3.00 M85.20,223.50 h3" stroke="#2a2a2a" stroke-width="1.1"/>
<path d="M89.00,222.00 v3.00 M87.50,223.50 h3" stroke="#2a2a2a" stroke-width="1.1"/>
<path d="M95.00,229.00 v3.00 M93.50,230.50 h3" stroke="#2a2a2a" stroke-width="1.1"/>
<path d="M98.00,229.00 v3.00 M96.50,230.50 h3" stroke="#2a2a2a" stroke-width="1.1"/>
<path d="M104.00,233.90 v3.00 M102.50,235.40 h3" stroke="#2a2a2a" stroke-width="1.1"/>
<path d="M106.00,233.90 v3.00 M104.50,235.40 h3" stroke="#2a2a2a" stroke-width="1.1"/>
<path d="M110.00,233.90 v3.00 M108.50,235.40 h3" stroke="#2a2a2a" stroke-width="1.1"/>
<path d="M114.00,233.90 v3.00 M112.50,235.40 h3" stroke="#2a2a2a" stroke-width="1.1"/>
<path d="M122.00,237.90 v3.00 M120.50,239.40 h3" stroke="#2a2a2a" stroke-width="1.1"/>
<path d="M127.00,237.90 v3.00 M125.50,239.40 h3" stroke="#2a2a2a" stroke-width="1.1"/>
<path d="M133.00,237.90 v3.00 M131.50,239.40 h3" stroke="#2a2a2a" stroke-width="1.1"/>
<path d="M137.00,237.90 v3.00 M135.50,239.40 h3" stroke="#2a2a2a" stroke-width="1.1"/>
<path d="M140.00,237.90 v3.00 M138.50,239.40 h3" stroke="#2a2a2a" stroke-width="1.1"/>
<path d="M153.50,243.60 v3.00 M152.00,245.10 h3" stroke="#2a2a2a" stroke-width="1.1"/>
<path d="M156.30,243.60 v3.00 M154.80,245.10 h3" stroke="#2a2a2a" stroke-width="1.1"/>
<path d="M158.30,243.60 v3.00 M156.80,245.10 h3" stroke="#2a2a2a" stroke-width="1.1"/>
<path d="M167.00,243.60 v3.00 M165.50,245.10 h3" stroke="#2a2a2a" stroke-width="1.1"/>
<path d="M168.80,243.60 v3.00 M167.30,245.10 h3" stroke="#2a2a2a" stroke-width="1.1"/>
<path d="M174.60,243.60 v3.00 M173.10,245.10 h3" stroke="#2a2a2a" stroke-width="1.1"/>
<path d="M187.10,243.60 v3.00 M185.60,245.10 h3" stroke="#2a2a2a" stroke-width="1.1"/>
<path d="M195.80,243.60 v3.00 M194.30,245.10 h3" stroke="#2a2a2a" stroke-width="1.1"/>
<path d="M197.70,243.60 v3.00 M196.20,245.10 h3" stroke="#2a2a2a" stroke-width="1.1"/>
<path d="M210.20,243.60 v3.00 M208.70,245.10 h3" stroke="#2a2a2a" stroke-width="1.1"/>
<path d="M217.00,253.10 v3.00 M215.50,254.60 h3" stroke="#2a2a2a" stroke-width="1.1"/>
<path d="M219.00,253.10 v3.00 M217.50,254.60 h3" stroke="#2a2a2a" stroke-width="1.1"/>
<path d="M236.50,253.10 v3.00 M235.00,254.60 h3" stroke="#2a2a2a" stroke-width="1.1"/>
<path d="M43.10,373.80 L44.10,370.50 L45.70,366.80 L46.80,363.80 L51.60,363.80 L51.60,359.80 L52.70,356.80 L96.20,356.80 L99.60,343.10 L100.00,342.70 L111.20,342.70 L111.20,339.20 L130.80,339.20 L130.80,335.30 L197.70,335.30 L197.70,332.30 L231.30,332.30" stroke="#2a2a2a" stroke-width="1.2" fill="none" stroke-dasharray="1.45 1.5"/>
<path d="M40.20,373.80 L41.60,370.80 L42.40,367.90 L43.10,363.80 L43.50,359.40 L43.80,356.50 L44.40,355.00 L45.80,346.10 L47.70,339.20 L49.70,335.30 L51.70,329.40 L53.00,319.60 L54.00,309.80 L54.30,296.70 L56.00,290.70 L58.60,283.80 L61.20,282.10 L63.70,278.70 L65.50,273.50 L68.00,269.20 L70.60,265.80 L72.30,262.40 L75.60,259.50 L78.10,252.60 L81.10,248.70 L85.00,243.80 L90.90,239.80 L94.50,237.50 L98.80,235.90 L102.70,234.60 L106.50,233.40 L110.00,231.80 L114.30,230.10 L118.00,229.20 L122.00,228.70 L129.20,228.20 L139.70,228.00 L140.50,227.60 L209.00,227.60 L210.00,226.20 L231.40,226.20" stroke="#1a1a1a" stroke-width="1.0" fill="none" stroke-linejoin="round"/>
<path d="M79.20,217.20 L91.50,217.20 L92.50,218.90 L109.50,218.90 L110.50,220.60 L176.60,220.80 L178.50,222.50 L202.50,222.50 L203.50,225.60 L211.90,225.60 L212.50,229.00 L223.30,229.00 L224.00,232.60 L238.20,232.60" stroke="#1a1a1a" stroke-width="1.0" fill="none" stroke-linejoin="round"/>
<path d="M79.70,215.50 v3.40" stroke="#111" stroke-width="1.3"/>
<path d="M81.50,215.50 v3.40" stroke="#111" stroke-width="1.3"/>
<path d="M85.50,215.50 v3.40" stroke="#111" stroke-width="1.3"/>
<path d="M88.40,215.50 v3.40" stroke="#111" stroke-width="1.3"/>
<path d="M89.50,215.50 v3.40" stroke="#111" stroke-width="1.3"/>
<path d="M95.30,217.20 v3.40" stroke="#111" stroke-width="1.3"/>
<path d="M100.50,217.20 v3.40" stroke="#111" stroke-width="1.3"/>
<path d="M102.20,217.20 v3.40" stroke="#111" stroke-width="1.3"/>
<path d="M106.30,217.20 v3.40" stroke="#111" stroke-width="1.3"/>
<path d="M110.30,218.56 v3.40" stroke="#111" stroke-width="1.3"/>
<path d="M112.60,218.91 v3.40" stroke="#111" stroke-width="1.3"/>
<path d="M114.90,218.91 v3.40" stroke="#111" stroke-width="1.3"/>
<path d="M117.20,218.92 v3.40" stroke="#111" stroke-width="1.3"/>
<path d="M120.10,218.93 v3.40" stroke="#111" stroke-width="1.3"/>
<path d="M121.80,218.93 v3.40" stroke="#111" stroke-width="1.3"/>
<path d="M124.70,218.94 v3.40" stroke="#111" stroke-width="1.3"/>
<path d="M127.60,218.95 v3.40" stroke="#111" stroke-width="1.3"/>
<path d="M131.60,218.96 v3.40" stroke="#111" stroke-width="1.3"/>
<path d="M133.40,218.97 v3.40" stroke="#111" stroke-width="1.3"/>
<path d="M135.80,218.98 v3.40" stroke="#111" stroke-width="1.3"/>
<path d="M140.00,218.99 v3.40" stroke="#111" stroke-width="1.3"/>
<path d="M143.50,219.00 v3.40" stroke="#111" stroke-width="1.3"/>
<path d="M147.30,219.01 v3.40" stroke="#111" stroke-width="1.3"/>
<path d="M149.20,219.02 v3.40" stroke="#111" stroke-width="1.3"/>
<path d="M151.90,219.03 v3.40" stroke="#111" stroke-width="1.3"/>
<path d="M156.50,219.04 v3.40" stroke="#111" stroke-width="1.3"/>
<path d="M158.80,219.05 v3.40" stroke="#111" stroke-width="1.3"/>
<path d="M162.30,219.06 v3.40" stroke="#111" stroke-width="1.3"/>
<path d="M166.20,219.07 v3.40" stroke="#111" stroke-width="1.3"/>
<path d="M170.00,219.08 v3.40" stroke="#111" stroke-width="1.3"/>
<path d="M173.10,219.09 v3.40" stroke="#111" stroke-width="1.3"/>
<path d="M176.60,219.10 v3.40" stroke="#111" stroke-width="1.3"/>
<path d="M178.90,220.80 v3.40" stroke="#111" stroke-width="1.3"/>
<path d="M183.50,220.80 v3.40" stroke="#111" stroke-width="1.3"/>
<path d="M187.80,220.80 v3.40" stroke="#111" stroke-width="1.3"/>
<path d="M189.70,220.80 v3.40" stroke="#111" stroke-width="1.3"/>
<path d="M193.50,220.80 v3.40" stroke="#111" stroke-width="1.3"/>
<path d="M195.10,220.80 v3.40" stroke="#111" stroke-width="1.3"/>
<path d="M196.60,220.80 v3.40" stroke="#111" stroke-width="1.3"/>
<path d="M199.70,220.80 v3.40" stroke="#111" stroke-width="1.3"/>
<path d="M202.00,220.80 v3.40" stroke="#111" stroke-width="1.3"/>
<path d="M203.20,222.97 v3.40" stroke="#111" stroke-width="1.3"/>
<path d="M205.10,223.90 v3.40" stroke="#111" stroke-width="1.3"/>
<path d="M207.40,223.90 v3.40" stroke="#111" stroke-width="1.3"/>
<path d="M209.50,223.90 v3.40" stroke="#111" stroke-width="1.3"/>
<path d="M212.50,227.30 v3.40" stroke="#111" stroke-width="1.3"/>
<path d="M217.00,227.30 v3.40" stroke="#111" stroke-width="1.3"/>
<path d="M220.50,227.30 v3.40" stroke="#111" stroke-width="1.3"/>
<path d="M225.50,230.90 v3.40" stroke="#111" stroke-width="1.3"/>
<path d="M229.30,230.90 v3.40" stroke="#111" stroke-width="1.3"/>
<path d="M232.60,230.90 v3.40" stroke="#111" stroke-width="1.3"/>
<path d="M236.50,230.90 v3.40" stroke="#111" stroke-width="1.3"/>
<text x="122.00" y="289.80" class="st" xml:space="preserve">PFS: <tspan font-style="italic">P</tspan> = .002</text>
<text x="122.00" y="304.90" class="st" xml:space="preserve">CCyR:<tspan font-style="italic">P</tspan> &lt; .0001</text>
<path d="M297.50,214.60 V380.00" stroke="#222" stroke-width="1.0" fill="none"/>
<path d="M297.00,379.50 H496.80" stroke="#333" stroke-width="1.0" fill="none"/>
<rect x="295.00" y="373.85" width="2.1" height="1.7" fill="#000"/>
<rect x="295.30" y="366.24" width="1.8" height="1.0" fill="#444"/>
<rect x="295.00" y="357.93" width="2.1" height="1.7" fill="#000"/>
<rect x="295.30" y="350.32" width="1.8" height="1.0" fill="#444"/>
<rect x="295.00" y="342.01" width="2.1" height="1.7" fill="#000"/>
<rect x="295.30" y="334.40" width="1.8" height="1.0" fill="#444"/>
<rect x="295.00" y="326.09" width="2.1" height="1.7" fill="#000"/>
<rect x="295.30" y="318.48" width="1.8" height="1.0" fill="#444"/>
<rect x="295.00" y="310.17" width="2.1" height="1.7" fill="#000"/>
<rect x="295.30" y="302.56" width="1.8" height="1.0" fill="#444"/>
<rect x="295.00" y="294.25" width="2.1" height="1.7" fill="#000"/>
<rect x="295.30" y="286.64" width="1.8" height="1.0" fill="#444"/>
<rect x="295.00" y="278.33" width="2.1" height="1.7" fill="#000"/>
<rect x="295.30" y="270.72" width="1.8" height="1.0" fill="#444"/>
<rect x="295.00" y="262.41" width="2.1" height="1.7" fill="#000"/>
<rect x="295.30" y="254.80" width="1.8" height="1.0" fill="#444"/>
<rect x="295.00" y="246.49" width="2.1" height="1.7" fill="#000"/>
<rect x="295.30" y="238.88" width="1.8" height="1.0" fill="#444"/>
<rect x="295.00" y="230.57" width="2.1" height="1.7" fill="#000"/>
<rect x="295.30" y="222.96" width="1.8" height="1.0" fill="#444"/>
<rect x="295.00" y="214.65" width="2.1" height="1.7" fill="#000"/>
<rect x="296.70" y="379.80" width="2.0" height="1.9" fill="#000"/>
<rect x="300.45" y="379.90" width="1.1" height="1.5" fill="#333"/>
<rect x="303.75" y="379.90" width="1.1" height="1.5" fill="#333"/>
<rect x="307.06" y="379.90" width="1.1" height="1.5" fill="#333"/>
<rect x="310.36" y="379.90" width="1.1" height="1.5" fill="#333"/>
<rect x="313.66" y="379.90" width="1.1" height="1.5" fill="#333"/>
<rect x="316.51" y="379.80" width="2.0" height="1.9" fill="#000"/>
<rect x="320.26" y="379.90" width="1.1" height="1.5" fill="#333"/>
<rect x="323.56" y="379.90" width="1.1" height="1.5" fill="#333"/>
<rect x="326.86" y="379.90" width="1.1" height="1.5" fill="#333"/>
<rect x="330.17" y="379.90" width="1.1" height="1.5" fill="#333"/>
<rect x="333.47" y="379.90" width="1.1" height="1.5" fill="#333"/>
<rect x="336.32" y="379.80" width="2.0" height="1.9" fill="#000"/>
<rect x="340.07" y="379.90" width="1.1" height="1.5" fill="#333"/>
<rect x="343.37" y="379.90" width="1.1" height="1.5" fill="#333"/>
<rect x="346.68" y="379.90" width="1.1" height="1.5" fill="#333"/>
<rect x="349.98" y="379.90" width="1.1" height="1.5" fill="#333"/>
<rect x="353.28" y="379.90" width="1.1" height="1.5" fill="#333"/>
<rect x="356.13" y="379.80" width="2.0" height="1.9" fill="#000"/>
<rect x="359.88" y="379.90" width="1.1" height="1.5" fill="#333"/>
<rect x="363.18" y="379.90" width="1.1" height="1.5" fill="#333"/>
<rect x="366.48" y="379.90" width="1.1" height="1.5" fill="#333"/>
<rect x="369.79" y="379.90" width="1.1" height="1.5" fill="#333"/>
<rect x="373.09" y="379.90" width="1.1" height="1.5" fill="#333"/>
<rect x="375.94" y="379.80" width="2.0" height="1.9" fill="#000"/>
<rect x="379.69" y="379.90" width="1.1" height="1.5" fill="#333"/>
<rect x="382.99" y="379.90" width="1.1" height="1.5" fill="#333"/>
<rect x="386.30" y="379.90" width="1.1" height="1.5" fill="#333"/>
<rect x="389.60" y="379.90" width="1.1" height="1.5" fill="#333"/>
<rect x="392.90" y="379.90" width="1.1" height="1.5" fill="#333"/>
<rect x="395.75" y="379.80" width="2.0" height="1.9" fill="#000"/>
<rect x="399.50" y="379.90" width="1.1" height="1.5" fill="#333"/>
<rect x="402.80" y="379.90" width="1.1" height="1.5" fill="#333"/>
<rect x="406.10" y="379.90" width="1.1" height="1.5" fill="#333"/>
<rect x="409.41" y="379.90" width="1.1" height="1.5" fill="#333"/>
<rect x="412.71" y="379.90" width="1.1" height="1.5" fill="#333"/>
<rect x="415.56" y="379.80" width="2.0" height="1.9" fill="#000"/>
<rect x="419.31" y="379.90" width="1.1" height="1.5" fill="#333"/>
<rect x="422.61" y="379.90" width="1.1" height="1.5" fill="#333"/>
<rect x="425.92" y="379.90" width="1.1" height="1.5" fill="#333"/>
<rect x="429.22" y="379.90" width="1.1" height="1.5" fill="#333"/>
<rect x="432.52" y="379.90" width="1.1" height="1.5" fill="#333"/>
<rect x="435.37" y="379.80" width="2.0" height="1.9" fill="#000"/>
<rect x="439.12" y="379.90" width="1.1" height="1.5" fill="#333"/>
<rect x="442.42" y="379.90" width="1.1" height="1.5" fill="#333"/>
<rect x="445.72" y="379.90" width="1.1" height="1.5" fill="#333"/>
<rect x="449.03" y="379.90" width="1.1" height="1.5" fill="#333"/>
<rect x="452.33" y="379.90" width="1.1" height="1.5" fill="#333"/>
<rect x="455.18" y="379.80" width="2.0" height="1.9" fill="#000"/>
<rect x="458.93" y="379.90" width="1.1" height="1.5" fill="#333"/>
<rect x="462.23" y="379.90" width="1.1" height="1.5" fill="#333"/>
<rect x="465.54" y="379.90" width="1.1" height="1.5" fill="#333"/>
<rect x="468.84" y="379.90" width="1.1" height="1.5" fill="#333"/>
<rect x="472.14" y="379.90" width="1.1" height="1.5" fill="#333"/>
<rect x="474.99" y="379.80" width="2.0" height="1.9" fill="#000"/>
<rect x="478.74" y="379.90" width="1.1" height="1.5" fill="#333"/>
<rect x="482.04" y="379.90" width="1.1" height="1.5" fill="#333"/>
<rect x="485.34" y="379.90" width="1.1" height="1.5" fill="#333"/>
<rect x="488.65" y="379.90" width="1.1" height="1.5" fill="#333"/>
<rect x="491.95" y="379.90" width="1.1" height="1.5" fill="#333"/>
<rect x="494.80" y="379.80" width="2.0" height="1.9" fill="#000"/>
<text x="293.10" y="377.00" text-anchor="end" class="tk">0.0</text>
<text x="293.10" y="361.08" text-anchor="end" class="tk">0.1</text>
<text x="293.10" y="345.16" text-anchor="end" class="tk">0.2</text>
<text x="293.10" y="329.24" text-anchor="end" class="tk">0.3</text>
<text x="293.10" y="313.32" text-anchor="end" class="tk">0.4</text>
<text x="293.10" y="297.40" text-anchor="end" class="tk">0.5</text>
<text x="293.10" y="281.48" text-anchor="end" class="tk">0.6</text>
<text x="293.10" y="265.56" text-anchor="end" class="tk">0.7</text>
<text x="293.10" y="249.64" text-anchor="end" class="tk">0.8</text>
<text x="293.10" y="233.72" text-anchor="end" class="tk">0.9</text>
<text x="293.10" y="217.80" text-anchor="end" class="tk">1.0</text>
<text x="297.90" y="390.70" text-anchor="middle" class="tk">0</text>
<text x="317.71" y="390.70" text-anchor="middle" class="tk">6</text>
<text x="337.52" y="390.70" text-anchor="middle" class="tk">12</text>
<text x="357.33" y="390.70" text-anchor="middle" class="tk">18</text>
<text x="377.14" y="390.70" text-anchor="middle" class="tk">24</text>
<text x="396.95" y="390.70" text-anchor="middle" class="tk">30</text>
<text x="416.76" y="390.70" text-anchor="middle" class="tk">36</text>
<text x="436.57" y="390.70" text-anchor="middle" class="tk">42</text>
<text x="456.38" y="390.70" text-anchor="middle" class="tk">48</text>
<text x="476.19" y="390.70" text-anchor="middle" class="tk">54</text>
<text x="496.00" y="390.70" text-anchor="middle" class="tk">60</text>
<text x="396.75" y="405.40" text-anchor="middle" class="xt" textLength="121.3" lengthAdjust="spacingAndGlyphs">Months from starting imatinib therapy</text>
<text transform="translate(268.80,294.35) rotate(-90)" text-anchor="middle" class="yt" textLength="57.1" lengthAdjust="spacingAndGlyphs">Probability of PFS</text>
<text transform="translate(276.80,293.65) rotate(-90)" text-anchor="middle" class="yt" xml:space="preserve" textLength="93.9" lengthAdjust="spacing">Cumulate Incidence  of CCyR</text>
<text x="517.00" y="217.50" text-anchor="end" class="pt">18 months</text>
<path d="M358.00,218.00 L368.80,218.00 L368.80,221.50 L378.00,221.50 L378.00,223.80 L405.50,223.80 L405.50,227.20 L436.60,227.20 L436.60,231.60 L471.30,231.60 L471.30,238.40 L473.30,238.40 L473.30,244.80 L482.60,244.80 L482.60,252.50 L496.30,252.50" stroke="#2a2a2a" stroke-width="1.2" fill="none" stroke-dasharray="1.45 1.5"/>
<path d="M359.00,216.50 v3.00 M357.50,218.00 h3" stroke="#2a2a2a" stroke-width="1.1"/>
<path d="M361.00,216.50 v3.00 M359.50,218.00 h3" stroke="#2a2a2a" stroke-width="1.1"/>
<path d="M363.00,216.50 v3.00 M361.50,218.00 h3" stroke="#2a2a2a" stroke-width="1.1"/>
<path d="M365.00,216.50 v3.00 M363.50,218.00 h3" stroke="#2a2a2a" stroke-width="1.1"/>
<path d="M367.00,216.50 v3.00 M365.50,218.00 h3" stroke="#2a2a2a" stroke-width="1.1"/>
<path d="M370.50,220.00 v3.00 M369.00,221.50 h3" stroke="#2a2a2a" stroke-width="1.1"/>
<path d="M372.50,220.00 v3.00 M371.00,221.50 h3" stroke="#2a2a2a" stroke-width="1.1"/>
<path d="M374.50,220.00 v3.00 M373.00,221.50 h3" stroke="#2a2a2a" stroke-width="1.1"/>
<path d="M376.00,220.00 v3.00 M374.50,221.50 h3" stroke="#2a2a2a" stroke-width="1.1"/>
<path d="M385.50,222.30 v3.00 M384.00,223.80 h3" stroke="#2a2a2a" stroke-width="1.1"/>
<path d="M387.50,222.30 v3.00 M386.00,223.80 h3" stroke="#2a2a2a" stroke-width="1.1"/>
<path d="M390.00,222.30 v3.00 M388.50,223.80 h3" stroke="#2a2a2a" stroke-width="1.1"/>
<path d="M392.00,222.30 v3.00 M390.50,223.80 h3" stroke="#2a2a2a" stroke-width="1.1"/>
<path d="M395.00,222.30 v3.00 M393.50,223.80 h3" stroke="#2a2a2a" stroke-width="1.1"/>
<path d="M398.50,222.30 v3.00 M397.00,223.80 h3" stroke="#2a2a2a" stroke-width="1.1"/>
<path d="M401.00,222.30 v3.00 M399.50,223.80 h3" stroke="#2a2a2a" stroke-width="1.1"/>
<path d="M407.00,225.70 v3.00 M405.50,227.20 h3" stroke="#2a2a2a" stroke-width="1.1"/>
<path d="M409.00,225.70 v3.00 M407.50,227.20 h3" stroke="#2a2a2a" stroke-width="1.1"/>
<path d="M411.50,225.70 v3.00 M410.00,227.20 h3" stroke="#2a2a2a" stroke-width="1.1"/>
<path d="M413.50,225.70 v3.00 M412.00,227.20 h3" stroke="#2a2a2a" stroke-width="1.1"/>
<path d="M415.00,225.70 v3.00 M413.50,227.20 h3" stroke="#2a2a2a" stroke-width="1.1"/>
<path d="M416.50,225.70 v3.00 M415.00,227.20 h3" stroke="#2a2a2a" stroke-width="1.1"/>
<path d="M419.00,225.70 v3.00 M417.50,227.20 h3" stroke="#2a2a2a" stroke-width="1.1"/>
<path d="M422.00,225.70 v3.00 M420.50,227.20 h3" stroke="#2a2a2a" stroke-width="1.1"/>
<path d="M424.50,225.70 v3.00 M423.00,227.20 h3" stroke="#2a2a2a" stroke-width="1.1"/>
<path d="M427.00,225.70 v3.00 M425.50,227.20 h3" stroke="#2a2a2a" stroke-width="1.1"/>
<path d="M429.50,225.70 v3.00 M428.00,227.20 h3" stroke="#2a2a2a" stroke-width="1.1"/>
<path d="M433.50,225.70 v3.00 M432.00,227.20 h3" stroke="#2a2a2a" stroke-width="1.1"/>
<path d="M436.00,225.70 v3.00 M434.50,227.20 h3" stroke="#2a2a2a" stroke-width="1.1"/>
<path d="M440.00,230.10 v3.00 M438.50,231.60 h3" stroke="#2a2a2a" stroke-width="1.1"/>
<path d="M446.00,230.10 v3.00 M444.50,231.60 h3" stroke="#2a2a2a" stroke-width="1.1"/>
<path d="M450.00,230.10 v3.00 M448.50,231.60 h3" stroke="#2a2a2a" stroke-width="1.1"/>
<path d="M453.00,230.10 v3.00 M451.50,231.60 h3" stroke="#2a2a2a" stroke-width="1.1"/>
<path d="M456.00,230.10 v3.00 M454.50,231.60 h3" stroke="#2a2a2a" stroke-width="1.1"/>
<path d="M460.00,230.10 v3.00 M458.50,231.60 h3" stroke="#2a2a2a" stroke-width="1.1"/>
<path d="M464.00,230.10 v3.00 M462.50,231.60 h3" stroke="#2a2a2a" stroke-width="1.1"/>
<path d="M468.50,230.10 v3.00 M467.00,231.60 h3" stroke="#2a2a2a" stroke-width="1.1"/>
<path d="M475.00,243.30 v3.00 M473.50,244.80 h3" stroke="#2a2a2a" stroke-width="1.1"/>
<path d="M479.50,243.30 v3.00 M478.00,244.80 h3" stroke="#2a2a2a" stroke-width="1.1"/>
<path d="M490.50,251.00 v3.00 M489.00,252.50 h3" stroke="#2a2a2a" stroke-width="1.1"/>
<path d="M495.50,251.00 v3.00 M494.00,252.50 h3" stroke="#2a2a2a" stroke-width="1.1"/>
<path d="M306.00,373.50 L361.00,373.50 L362.80,367.00 L365.00,361.30 L367.10,354.20 L373.20,354.20 L374.90,347.10 L377.80,342.80 L380.60,339.90 L382.80,336.40 L387.80,336.40 L389.90,334.20 L392.70,332.10 L396.30,330.00 L406.50,330.00 L406.50,326.40 L463.50,326.40 L463.50,323.80 L480.80,323.80 L480.80,321.50 L498.00,321.50" stroke="#2a2a2a" stroke-width="1.2" fill="none" stroke-dasharray="1.45 1.5"/>
<path d="M358.00,217.80 L460.80,217.80 L461.00,221.30 L496.20,221.30" stroke="#1a1a1a" stroke-width="1.0" fill="none" stroke-linejoin="round"/>
<path d="M359.00,216.30 v3.00" stroke="#111" stroke-width="1.2"/>
<path d="M360.50,216.30 v3.00" stroke="#111" stroke-width="1.2"/>
<path d="M362.00,216.30 v3.00" stroke="#111" stroke-width="1.2"/>
<path d="M363.70,216.30 v3.00" stroke="#111" stroke-width="1.2"/>
<path d="M366.00,216.30 v3.00" stroke="#111" stroke-width="1.2"/>
<path d="M367.70,216.30 v3.00" stroke="#111" stroke-width="1.2"/>
<path d="M370.00,216.30 v3.00" stroke="#111" stroke-width="1.2"/>
<path d="M372.30,216.30 v3.00" stroke="#111" stroke-width="1.2"/>
<path d="M374.60,216.30 v3.00" stroke="#111" stroke-width="1.2"/>
<path d="M376.90,216.30 v3.00" stroke="#111" stroke-width="1.2"/>
<path d="M379.20,216.30 v3.00" stroke="#111" stroke-width="1.2"/>
<path d="M382.70,216.30 v3.00" stroke="#111" stroke-width="1.2"/>
<path d="M385.60,216.30 v3.00" stroke="#111" stroke-width="1.2"/>
<path d="M391.30,216.30 v3.00" stroke="#111" stroke-width="1.2"/>
<path d="M394.20,216.30 v3.00" stroke="#111" stroke-width="1.2"/>
<path d="M398.80,216.30 v3.00" stroke="#111" stroke-width="1.2"/>
<path d="M401.20,216.30 v3.00" stroke="#111" stroke-width="1.2"/>
<path d="M403.50,216.30 v3.00" stroke="#111" stroke-width="1.2"/>
<path d="M406.30,216.30 v3.00" stroke="#111" stroke-width="1.2"/>
<path d="M408.70,216.30 v3.00" stroke="#111" stroke-width="1.2"/>
<path d="M411.50,216.30 v3.00" stroke="#111" stroke-width="1.2"/>
<path d="M413.80,216.30 v3.00" stroke="#111" stroke-width="1.2"/>
<path d="M416.00,216.30 v3.00" stroke="#111" stroke-width="1.2"/>
<path d="M418.00,216.30 v3.00" stroke="#111" stroke-width="1.2"/>
<path d="M420.00,216.30 v3.00" stroke="#111" stroke-width="1.2"/>
<path d="M423.00,216.30 v3.00" stroke="#111" stroke-width="1.2"/>
<path d="M426.20,216.30 v3.00" stroke="#111" stroke-width="1.2"/>
<path d="M428.50,216.30 v3.00" stroke="#111" stroke-width="1.2"/>
<path d="M431.00,216.30 v3.00" stroke="#111" stroke-width="1.2"/>
<path d="M433.00,216.30 v3.00" stroke="#111" stroke-width="1.2"/>
<path d="M434.60,216.30 v3.00" stroke="#111" stroke-width="1.2"/>
<path d="M437.70,216.30 v3.00" stroke="#111" stroke-width="1.2"/>
<path d="M441.50,216.30 v3.00" stroke="#111" stroke-width="1.2"/>
<path d="M443.80,216.30 v3.00" stroke="#111" stroke-width="1.2"/>
<path d="M447.00,216.30 v3.00" stroke="#111" stroke-width="1.2"/>
<path d="M450.00,216.30 v3.00" stroke="#111" stroke-width="1.2"/>
<path d="M452.30,216.30 v3.00" stroke="#111" stroke-width="1.2"/>
<path d="M454.60,216.30 v3.00" stroke="#111" stroke-width="1.2"/>
<path d="M457.00,216.30 v3.00" stroke="#111" stroke-width="1.2"/>
<path d="M459.20,216.30 v3.00" stroke="#111" stroke-width="1.2"/>
<path d="M461.50,219.80 v3.00" stroke="#111" stroke-width="1.2"/>
<path d="M463.00,219.80 v3.00" stroke="#111" stroke-width="1.2"/>
<path d="M466.00,219.80 v3.00" stroke="#111" stroke-width="1.2"/>
<path d="M469.20,219.80 v3.00" stroke="#111" stroke-width="1.2"/>
<path d="M472.30,219.80 v3.00" stroke="#111" stroke-width="1.2"/>
<path d="M474.60,219.80 v3.00" stroke="#111" stroke-width="1.2"/>
<path d="M477.70,219.80 v3.00" stroke="#111" stroke-width="1.2"/>
<path d="M480.80,219.80 v3.00" stroke="#111" stroke-width="1.2"/>
<path d="M483.00,219.80 v3.00" stroke="#111" stroke-width="1.2"/>
<path d="M486.20,219.80 v3.00" stroke="#111" stroke-width="1.2"/>
<path d="M488.50,219.80 v3.00" stroke="#111" stroke-width="1.2"/>
<path d="M491.50,219.80 v3.00" stroke="#111" stroke-width="1.2"/>
<path d="M494.60,219.80 v3.00" stroke="#111" stroke-width="1.2"/>
<text x="387.00" y="289.50" class="st" xml:space="preserve">PFS: <tspan font-style="italic">P</tspan> &lt; .001</text>
<text x="387.00" y="304.90" class="st" xml:space="preserve">CCyR:  <tspan font-style="italic">P</tspan> &lt; .0001</text>
</svg>
</body></html>
